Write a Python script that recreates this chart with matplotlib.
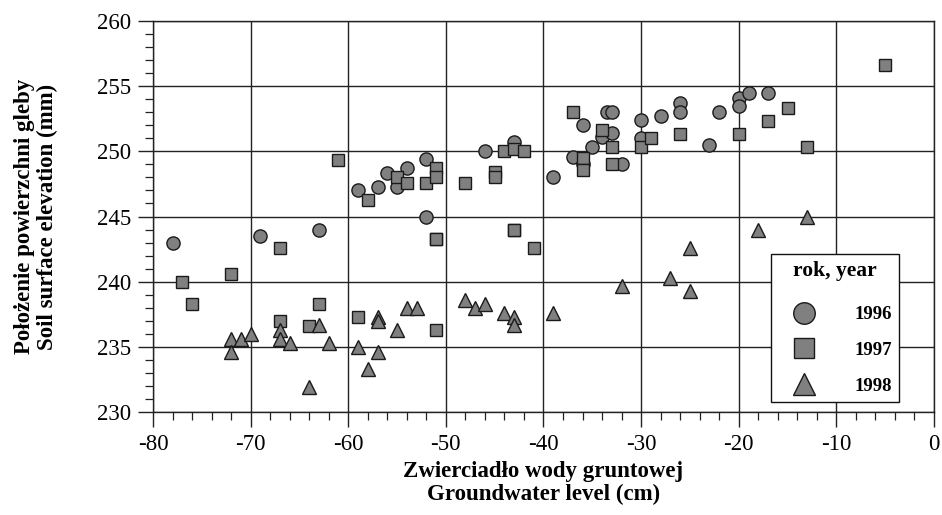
import matplotlib
matplotlib.use("Agg")
import matplotlib.pyplot as plt
from matplotlib.lines import Line2D
from matplotlib.ticker import MultipleLocator

# ---- data ----
x1996 = [-78, -69, -63, -59, -57, -56, -55, -54, -52, -52, -46, -43, -39, -37, -36, -36,
         -35, -34, -33.5, -33, -33, -32, -30, -30, -28, -26, -26, -23, -22, -20, -20, -19, -17]
y1996 = [243.0, 243.5, 244.0, 247.0, 247.3, 248.3, 247.3, 248.7, 249.4, 245.0, 250.0, 250.7,
         248.0, 249.6, 252.0, 249.0, 250.3, 251.1, 253.0, 253.0, 251.4, 249.0, 252.4, 251.0,
         252.7, 253.7, 253.0, 250.5, 253.0, 254.1, 253.5, 254.5, 254.5]

x1997 = [-77, -76, -72, -67, -67, -64, -63, -61, -59, -58, -55, -54, -52, -51, -51, -51, -51,
         -51, -48, -45, -45, -44, -43, -42, -43, -43, -41, -37, -36, -36, -34, -33, -33, -30,
         -29, -26, -20, -17, -15, -13, -5]
y1997 = [240.0, 238.3, 240.6, 242.6, 237.0, 236.6, 238.3, 249.3, 237.3, 246.3, 248.0, 247.6,
         247.6, 248.7, 248.0, 243.3, 243.3, 236.3, 247.6, 248.4, 248.0, 250.0, 250.2, 250.0,
         244.0, 244.0, 242.6, 253.0, 249.5, 248.6, 251.6, 250.3, 249.0, 250.3, 251.0, 251.3,
         251.3, 252.3, 253.3, 250.3, 256.6]

x1998 = [-72, -72, -71, -70, -67, -67, -66, -64, -63, -62, -59, -58, -57, -57, -57, -55, -54,
         -53, -48, -47, -46, -44, -43, -43, -39, -32, -27, -25, -25, -18, -13]
y1998 = [235.6, 234.6, 235.6, 236.0, 236.3, 235.6, 235.3, 231.9, 236.7, 235.3, 235.0, 233.3,
         234.6, 237.3, 237.0, 236.3, 238.0, 238.0, 238.6, 238.0, 238.3, 237.6, 237.3, 236.7,
         237.6, 239.7, 240.3, 242.6, 239.3, 244.0, 245.0]

years = ["1996", "1997", "1998"]
xticks = [-80, -70, -60, -50, -40, -30, -20, -10, 0]
yticks = [230, 235, 240, 245, 250, 255, 260]

# ---- style ----
plt.rcParams['font.family'] = ['Liberation Serif', 'DejaVu Serif']
plt.rcParams['axes.unicode_minus'] = False
fill = '#808080'
edge = '#1a1a1a'

fig = plt.figure(figsize=(9.42, 5.15), dpi=100)
ax = fig.add_axes([0.1624, 0.2, 0.8291, 0.7592])

ax.set_xlim(-80, 0)
ax.set_ylim(230, 260)
ax.set_xticks(xticks)
ax.set_yticks(yticks)
ax.xaxis.set_minor_locator(MultipleLocator(2))
ax.yaxis.set_minor_locator(MultipleLocator(1))
ax.grid(True, which='major', color='#222222', linewidth=1.0)
ax.set_axisbelow(True)

for s in ax.spines.values():
    s.set_color('#222222')
    s.set_linewidth(1.0)

ax.tick_params(which='major', direction='out', length=11, width=1.0, labelsize=16.5,
               color='#222222', pad=5)
ax.tick_params(which='minor', direction='out', length=6, width=0.9, color='#222222')

ms = 9.5
ax.plot(x1996, y1996, linestyle='none', marker='o', ms=ms, mfc=fill, mec=edge, mew=1.0, zorder=3)
ax.plot(x1997, y1997, linestyle='none', marker='s', ms=ms * 0.95, mfc=fill, mec=edge, mew=1.0, zorder=3)
ax.plot(x1998, y1998, linestyle='none', marker='^', ms=ms * 1.05, mfc=fill, mec=edge, mew=1.0, zorder=3)

ax.set_xlabel("Zwierciadło wody gruntowej\nGroundwater level (cm)", fontsize=16.5,
              fontweight='bold', linespacing=1.12, labelpad=4)
ax.set_ylabel("Położenie powierzchni gleby\nSoil surface elevation (mm)", fontsize=16.5,
              fontweight='bold', linespacing=1.12, labelpad=28)

handles = [
    Line2D([], [], linestyle='none', marker='o', ms=15.5, mfc=fill, mec=edge, mew=1.0),
    Line2D([], [], linestyle='none', marker='s', ms=14.5, mfc=fill, mec=edge, mew=1.0),
    Line2D([], [], linestyle='none', marker='^', ms=16, mfc=fill, mec=edge, mew=1.0),
]
leg = ax.legend(handles, years, title="rok, year", loc='lower left',
                bbox_to_anchor=(0.791, 0.0256, 0.164, 0.378), mode='expand',
                prop={'weight': 'bold', 'size': 13.5},
                title_fontproperties={'weight': 'bold', 'size': 15.5},
                frameon=True, fancybox=False, framealpha=1, edgecolor='#111111',
                borderaxespad=0, handlelength=2.8, handletextpad=1.3,
                labelspacing=1.0, borderpad=0.38)
leg.get_frame().set_linewidth(1.0)
leg._legend_box.sep = 18
for t in leg.get_texts():
    t.set_ha('right')

fig.savefig("out.png", dpi=100)
